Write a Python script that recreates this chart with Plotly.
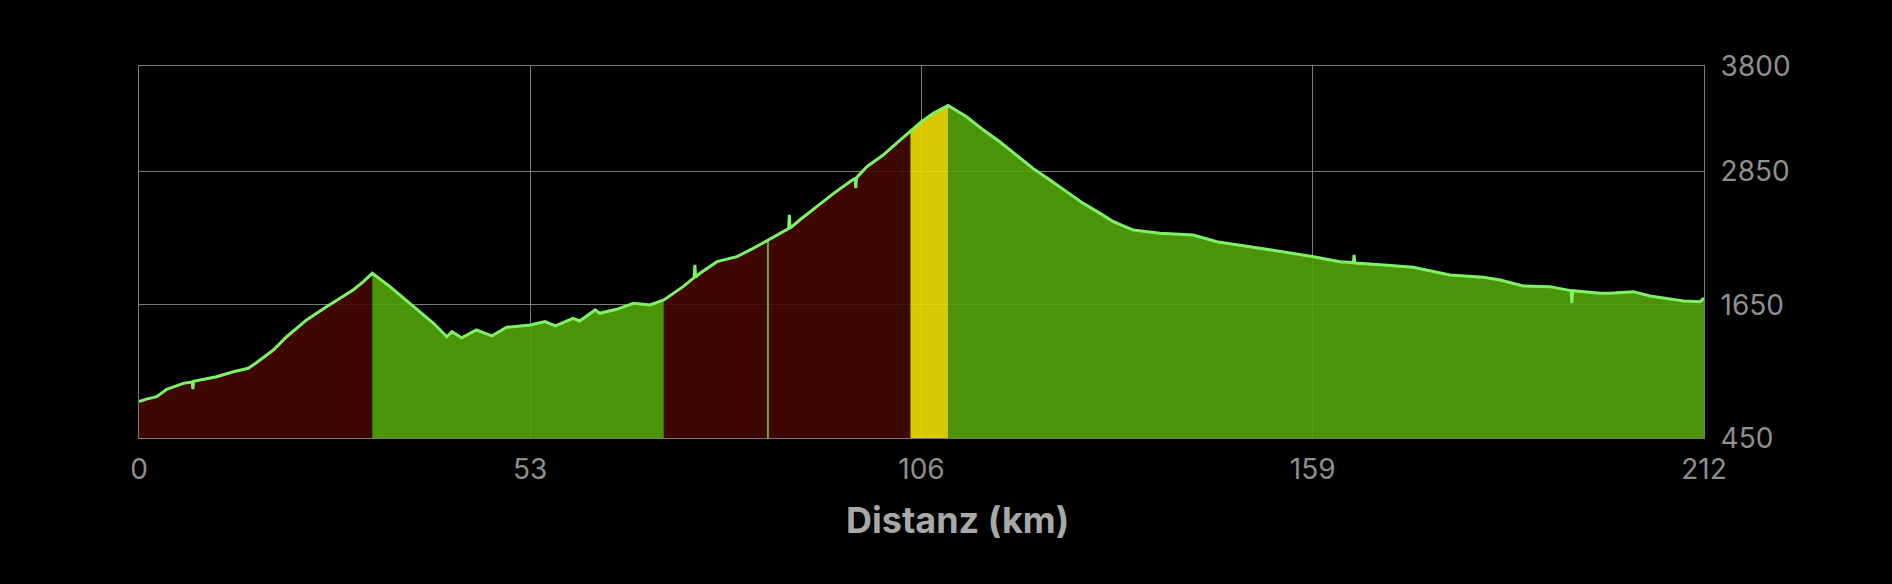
import plotly.graph_objects as go

# Elevation profile
distance_km = [0, 1.0, 2.4, 3.75, 6.0, 7.2, 7.3, 7.4, 8.3, 10.5, 12.8, 14.8, 15.9, 18.2, 20.0,
               22.7, 25.4, 27.2, 29.0, 30.4, 31.6, 34.0, 37.2, 39.9, 41.7, 42.4, 43.7, 45.7,
               47.8, 49.8, 53.0, 55.0, 56.4, 58.8, 59.7, 61.8, 62.4, 64.7, 67.0, 69.2, 71.1,
               73.7, 75.2, 75.3, 75.4, 76.0, 78.3, 81.0, 83.2, 85.2, 87.3, 88.0, 88.1, 88.2,
               89.5, 91.8, 94.1, 96.3, 97.0, 97.1, 97.2, 98.6, 100.8, 103.1, 104.5, 106.0,
               107.6, 109.6, 112.1, 114.4, 116.6, 118.9, 121.1, 123.4, 125.7, 127.9, 130.2,
               132.0, 134.7, 138.3, 142.8, 146.0, 150.5, 155.0, 159.1, 162.7, 164.5, 164.6,
               164.7, 168.6, 172.6, 177.6, 182.1, 184.4, 187.5, 191.1, 194.0, 194.1, 194.2,
               197.9, 199.3, 202.4, 204.7, 209.2, 211.5, 212.0]
elevation_m = [777, 800, 822, 888, 942, 955, 890, 960, 972, 1002, 1047, 1078, 1128, 1242, 1362,
               1513, 1632, 1708, 1783, 1858, 1933, 1813, 1632, 1483, 1362, 1407, 1353, 1423,
               1369, 1447, 1468, 1498, 1459, 1528, 1504, 1603, 1573, 1609, 1663, 1648, 1693,
               1813, 1895, 2010, 1900, 1933, 2038, 2083, 2158, 2233, 2308, 2335, 2460, 2340,
               2413, 2533, 2653, 2758, 2790, 2700, 2795, 2893, 2998, 3133, 3217, 3298,
               3374, 3445, 3343, 3223, 3118, 2998, 2878, 2773, 2668, 2563, 2473,
               2398, 2323, 2293, 2278, 2218, 2173, 2128, 2083, 2038, 2030, 2100,
               2025, 2008, 1987, 1918, 1897, 1873, 1819, 1813, 1777, 1665, 1777,
               1753, 1753, 1768, 1729, 1684, 1678, 1710]

# Gradient segments (km boundaries) and their colours
segment_bounds = [0, 31.6, 71.1, 85.2, 104.5, 109.6, 212]
segment_colors = ["rgba(69,8,0,0.9)", "rgba(83,164,8,0.9)", "rgba(69,8,0,0.9)",
                  "rgba(69,8,0,0.9)", "rgba(238,222,0,0.9)", "rgba(83,164,8,0.9)"]
divider_km = [85.2]

x_ticks = [0, 53, 106, 159, 212]
y_ticks = [450, 1650, 2850, 3800]

fig = go.Figure()

for i, col in enumerate(segment_colors):
    a, b = segment_bounds[i], segment_bounds[i + 1]
    xs = [d for d in distance_km if a <= d <= b]
    ys = [e for d, e in zip(distance_km, elevation_m) if a <= d <= b]
    fig.add_trace(go.Scatter(x=xs, y=ys, mode="lines", fill="tozeroy",
                             fillcolor=col, line=dict(width=0, color=col),
                             hoverinfo="skip", showlegend=False))

for d in divider_km:
    e = elevation_m[distance_km.index(d)]
    fig.add_trace(go.Scatter(x=[d, d], y=[y_ticks[0], e], mode="lines",
                             line=dict(color="#7fd84f", width=1.5),
                             hoverinfo="skip", showlegend=False))

fig.add_trace(go.Scatter(x=distance_km, y=elevation_m, mode="lines",
                         line=dict(color="#7ef266", width=3),
                         showlegend=False))

grid = "#7a7a7a"
fig.update_layout(
    width=1892, height=584,
    margin=dict(l=139, r=188, t=66, b=146),
    paper_bgcolor="black", plot_bgcolor="black",
    font=dict(family="Inter, Roboto, sans-serif", color="#8f8f8f"),
    xaxis=dict(range=[0, 212], tickvals=x_ticks, ticktext=[str(t) for t in x_ticks],
               showgrid=True, gridcolor=grid, gridwidth=1, zeroline=False,
               showline=True, linecolor=grid, linewidth=1, mirror=True,
               ticks="", ticklabelstandoff=6, tickfont=dict(size=28, color="#8f8f8f")),
    yaxis=dict(range=[450, 3800], tickvals=y_ticks, ticktext=[str(t) for t in y_ticks],
               side="right", showgrid=True, gridcolor=grid, gridwidth=1, zeroline=False,
               showline=True, linecolor=grid, linewidth=1, mirror=True,
               ticks="", ticklabelstandoff=10, tickfont=dict(size=28, color="#8f8f8f")),
    annotations=[dict(text="<b>Distanz (km)</b>", xref="paper", yref="paper",
                      x=0.5233, y=-0.2204, xanchor="center", yanchor="middle",
                      showarrow=False, font=dict(size=36, color="#a8a8a8",
                                                 family="Inter, Roboto, sans-serif"))],
)

fig.write_html("out.html", config={"displayModeBar": False},
               post_script="document.body.style.margin='0';document.body.style.background='black';")
